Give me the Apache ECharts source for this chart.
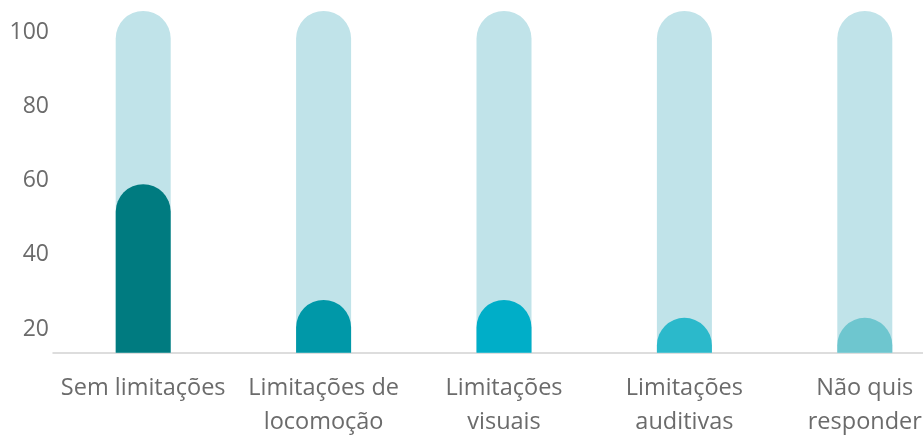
<!DOCTYPE html>
<html>
<head>
<meta charset="utf-8">
<script src="https://cdn.jsdelivr.net/npm/echarts@6/dist/echarts.min.js"></script>
<style>
html,body{margin:0;padding:0;background:#fff;}
#main{width:923px;height:436px;}
</style>
</head>
<body>
<div id="main"></div>
<script>
const categories = ["Sem limitações", "Limitações de\nlocomoção", "Limitações\nvisuais", "Limitações\nauditivas", "Não quis\nresponder"];
const values = [59, 27.8, 27.8, 23, 23];
const barColors = ["#007B80", "#0098A8", "#00AEC8", "#2BB9CB", "#6EC6CF"];
const yTicks = [20, 40, 60, 80, 100];

const chart = echarts.init(document.getElementById('main'), null, {renderer: 'canvas'});
chart.setOption({
  animation: false,
  grid: {left: 53, right: -32, top: 11, bottom: 83.3, containLabel: false, outerBoundsMode: 'none'},
  xAxis: {
    type: 'category',
    data: categories,
    axisLine: {show: true, lineStyle: {color: '#d2d2d2', width: 1.5}},
    axisTick: {show: false},
    axisLabel: {
      interval: 0,
      color: '#6b6b6b',
      fontFamily: 'Open Sans',
      fontSize: 23.5,
      lineHeight: 34,
      margin: 19
    }
  },
  yAxis: {
    type: 'value',
    min: 13.6,
    max: 105.7,
    splitLine: {show: false},
    axisLine: {show: false},
    axisTick: {show: false},
    axisLabel: {
      customValues: yTicks,
      color: '#6b6b6b',
      fontFamily: 'Open Sans',
      fontSize: 23,
      margin: 4
    }
  },
  series: [{
    type: 'bar',
    barWidth: 55,
    showBackground: true,
    backgroundStyle: {color: '#C0E3E9', borderRadius: [27.5, 27.5, 0, 0]},
    itemStyle: {borderRadius: [27.5, 27.5, 0, 0]},
    data: values.map((v, i) => ({value: v, itemStyle: {color: barColors[i]}}))
  }]
});
</script>
</body>
</html>
